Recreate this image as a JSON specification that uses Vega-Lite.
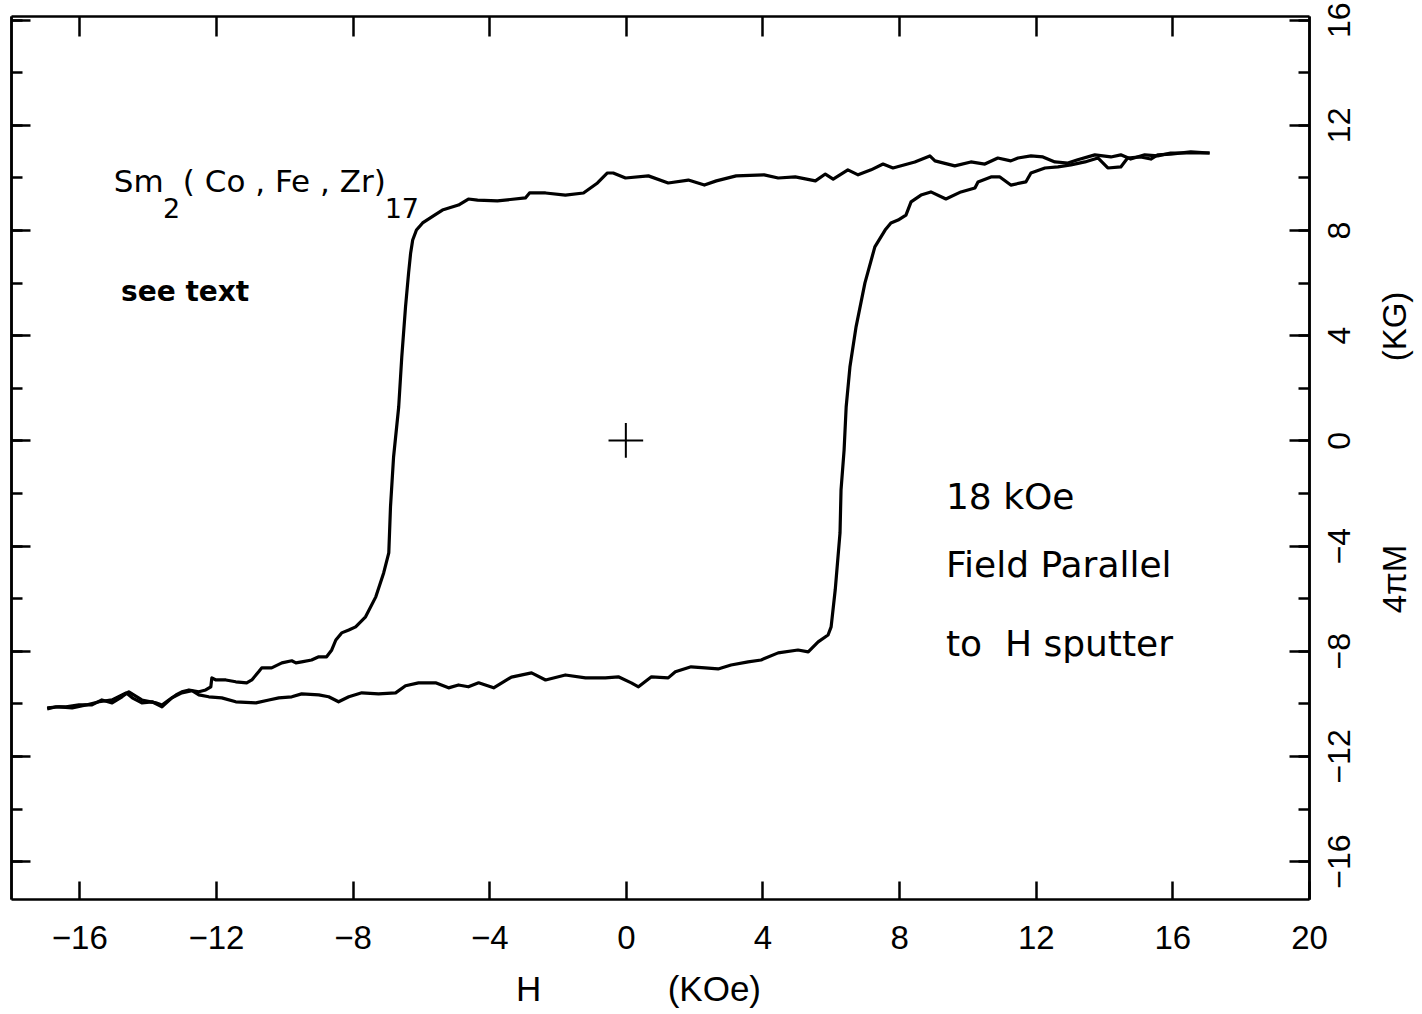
{
  "$schema": "https://vega.github.io/schema/vega-lite/v6.json",
  "autosize": {"type": "none"},
  "padding": {"left": 11, "top": 16, "right": 113, "bottom": 115},
  "width": 1298,
  "height": 883,
  "background": "white",
  "datasets": {
    "loop": [
      {"b":"down","i":1,"h":17.09,"m":10.93},{"b":"down","i":2,"h":16.54,"m":10.93},{"b":"down","i":3,"h":15.95,"m":10.93},{"b":"down","i":4,"h":15.57,"m":10.82},{"b":"down","i":5,"h":15.19,"m":10.86},{"b":"down","i":6,"h":14.78,"m":10.70},{"b":"down","i":7,"h":14.49,"m":10.86},{"b":"down","i":8,"h":14.20,"m":10.78},{"b":"down","i":9,"h":13.73,"m":10.86},{"b":"down","i":10,"h":13.23,"m":10.67},
      {"b":"down","i":11,"h":12.94,"m":10.55},{"b":"down","i":12,"h":12.56,"m":10.59},{"b":"down","i":13,"h":12.21,"m":10.78},{"b":"down","i":14,"h":11.86,"m":10.82},{"b":"down","i":15,"h":11.48,"m":10.74},{"b":"down","i":16,"h":11.27,"m":10.63},{"b":"down","i":17,"h":10.89,"m":10.74},{"b":"down","i":18,"h":10.51,"m":10.51},{"b":"down","i":19,"h":10.10,"m":10.59},{"b":"down","i":20,"h":9.63,"m":10.44},
      {"b":"down","i":21,"h":9.05,"m":10.63},{"b":"down","i":22,"h":8.90,"m":10.82},{"b":"down","i":23,"h":8.46,"m":10.59},{"b":"down","i":24,"h":7.82,"m":10.36},{"b":"down","i":25,"h":7.53,"m":10.51},{"b":"down","i":26,"h":7.18,"m":10.29},{"b":"down","i":27,"h":6.80,"m":10.10},{"b":"down","i":28,"h":6.50,"m":10.29},{"b":"down","i":29,"h":6.07,"m":9.94},{"b":"down","i":30,"h":5.84,"m":10.13},
      {"b":"down","i":31,"h":5.55,"m":9.87},{"b":"down","i":32,"h":4.96,"m":10.02},{"b":"down","i":33,"h":4.46,"m":9.98},{"b":"down","i":34,"h":4.05,"m":10.10},{"b":"down","i":35,"h":3.23,"m":10.06},{"b":"down","i":36,"h":2.65,"m":9.87},{"b":"down","i":37,"h":2.30,"m":9.71},{"b":"down","i":38,"h":1.83,"m":9.90},{"b":"down","i":39,"h":1.24,"m":9.79},{"b":"down","i":40,"h":0.66,"m":10.06},
      {"b":"down","i":41,"h":-0.01,"m":9.98},{"b":"down","i":42,"h":-0.37,"m":10.17},{"b":"down","i":43,"h":-0.54,"m":10.17},{"b":"down","i":44,"h":-0.83,"m":9.79},{"b":"down","i":45,"h":-1.24,"m":9.41},{"b":"down","i":46,"h":-1.77,"m":9.33},{"b":"down","i":47,"h":-2.35,"m":9.41},{"b":"down","i":48,"h":-2.82,"m":9.41},{"b":"down","i":49,"h":-2.94,"m":9.22},{"b":"down","i":50,"h":-3.76,"m":9.11},
      {"b":"down","i":51,"h":-4.34,"m":9.14},{"b":"down","i":52,"h":-4.61,"m":9.18},{"b":"down","i":53,"h":-4.90,"m":8.95},{"b":"down","i":54,"h":-5.37,"m":8.76},{"b":"down","i":55,"h":-5.60,"m":8.57},{"b":"down","i":56,"h":-5.95,"m":8.27},{"b":"down","i":57,"h":-6.13,"m":8.00},{"b":"down","i":58,"h":-6.24,"m":7.62},{"b":"down","i":59,"h":-6.30,"m":7.13},{"b":"down","i":60,"h":-6.36,"m":6.37},
      {"b":"down","i":61,"h":-6.45,"m":5.08},{"b":"down","i":62,"h":-6.56,"m":3.17},{"b":"down","i":63,"h":-6.65,"m":1.27},{"b":"down","i":64,"h":-6.80,"m":-0.63},{"b":"down","i":65,"h":-6.89,"m":-2.53},{"b":"down","i":66,"h":-6.94,"m":-4.28},{"b":"down","i":67,"h":-7.09,"m":-5.04},{"b":"down","i":68,"h":-7.32,"m":-5.95},{"b":"down","i":69,"h":-7.62,"m":-6.71},{"b":"down","i":70,"h":-7.91,"m":-7.09},
      {"b":"down","i":71,"h":-8.11,"m":-7.21},{"b":"down","i":72,"h":-8.32,"m":-7.32},{"b":"down","i":73,"h":-8.49,"m":-7.59},{"b":"down","i":74,"h":-8.61,"m":-7.97},{"b":"down","i":75,"h":-8.76,"m":-8.23},{"b":"down","i":76,"h":-8.99,"m":-8.23},{"b":"down","i":77,"h":-9.20,"m":-8.35},{"b":"down","i":78,"h":-9.49,"m":-8.42},{"b":"down","i":79,"h":-9.66,"m":-8.46},{"b":"down","i":80,"h":-9.78,"m":-8.38},
      {"b":"down","i":81,"h":-10.07,"m":-8.46},{"b":"down","i":82,"h":-10.37,"m":-8.65},{"b":"down","i":83,"h":-10.66,"m":-8.65},{"b":"down","i":84,"h":-10.75,"m":-8.80},{"b":"down","i":85,"h":-10.95,"m":-9.11},{"b":"down","i":86,"h":-11.10,"m":-9.22},{"b":"down","i":87,"h":-11.42,"m":-9.18},{"b":"down","i":88,"h":-11.71,"m":-9.11},{"b":"down","i":89,"h":-12.00,"m":-9.11},{"b":"down","i":90,"h":-12.12,"m":-9.03},
      {"b":"down","i":91,"h":-12.15,"m":-9.37},{"b":"down","i":92,"h":-12.30,"m":-9.49},{"b":"down","i":93,"h":-12.50,"m":-9.56},{"b":"down","i":94,"h":-12.79,"m":-9.49},{"b":"down","i":95,"h":-13.00,"m":-9.56},{"b":"down","i":96,"h":-13.17,"m":-9.68},{"b":"down","i":97,"h":-13.38,"m":-9.87},{"b":"down","i":98,"h":-13.58,"m":-10.06},{"b":"down","i":99,"h":-13.76,"m":-9.98},{"b":"down","i":100,"h":-14.17,"m":-9.87},
      {"b":"down","i":101,"h":-14.55,"m":-9.56},{"b":"down","i":102,"h":-14.75,"m":-9.75},{"b":"down","i":103,"h":-15.04,"m":-9.98},{"b":"down","i":104,"h":-15.34,"m":-9.87},{"b":"down","i":105,"h":-15.63,"m":-10.06},{"b":"down","i":106,"h":-16.01,"m":-10.06},{"b":"down","i":107,"h":-16.39,"m":-10.13},{"b":"down","i":108,"h":-16.68,"m":-10.13},{"b":"down","i":109,"h":-16.94,"m":-10.21},
      {"b":"up","i":1,"h":-16.94,"m":-10.17},{"b":"up","i":2,"h":-16.59,"m":-10.13},{"b":"up","i":3,"h":-16.21,"m":-10.17},{"b":"up","i":4,"h":-15.80,"m":-10.06},{"b":"up","i":5,"h":-15.42,"m":-9.94},{"b":"up","i":6,"h":-15.04,"m":-9.87},{"b":"up","i":7,"h":-14.63,"m":-9.60},{"b":"up","i":8,"h":-14.45,"m":-9.79},{"b":"up","i":9,"h":-14.17,"m":-9.98},{"b":"up","i":10,"h":-13.87,"m":-9.94},
      {"b":"up","i":11,"h":-13.58,"m":-10.13},{"b":"up","i":12,"h":-13.29,"m":-9.79},{"b":"up","i":13,"h":-13.00,"m":-9.60},{"b":"up","i":14,"h":-12.70,"m":-9.52},{"b":"up","i":15,"h":-12.50,"m":-9.68},{"b":"up","i":16,"h":-12.21,"m":-9.75},{"b":"up","i":17,"h":-11.83,"m":-9.79},{"b":"up","i":18,"h":-11.42,"m":-9.94},{"b":"up","i":19,"h":-10.83,"m":-9.98},{"b":"up","i":20,"h":-10.45,"m":-9.87},
      {"b":"up","i":21,"h":-10.16,"m":-9.79},{"b":"up","i":22,"h":-9.78,"m":-9.75},{"b":"up","i":23,"h":-9.49,"m":-9.64},{"b":"up","i":24,"h":-8.99,"m":-9.68},{"b":"up","i":25,"h":-8.70,"m":-9.75},{"b":"up","i":26,"h":-8.41,"m":-9.94},{"b":"up","i":27,"h":-8.11,"m":-9.75},{"b":"up","i":28,"h":-7.73,"m":-9.60},{"b":"up","i":29,"h":-7.24,"m":-9.64},{"b":"up","i":30,"h":-6.74,"m":-9.60},
      {"b":"up","i":31,"h":-6.45,"m":-9.33},{"b":"up","i":32,"h":-6.07,"m":-9.22},{"b":"up","i":33,"h":-5.57,"m":-9.22},{"b":"up","i":34,"h":-5.19,"m":-9.41},{"b":"up","i":35,"h":-4.90,"m":-9.30},{"b":"up","i":36,"h":-4.61,"m":-9.37},{"b":"up","i":37,"h":-4.31,"m":-9.22},{"b":"up","i":38,"h":-3.87,"m":-9.41},{"b":"up","i":39,"h":-3.35,"m":-9.00},{"b":"up","i":40,"h":-2.76,"m":-8.84},
      {"b":"up","i":41,"h":-2.35,"m":-9.11},{"b":"up","i":42,"h":-1.77,"m":-8.92},{"b":"up","i":43,"h":-1.18,"m":-9.03},{"b":"up","i":44,"h":-0.60,"m":-9.03},{"b":"up","i":45,"h":-0.22,"m":-8.99},{"b":"up","i":46,"h":0.16,"m":-9.22},{"b":"up","i":47,"h":0.37,"m":-9.37},{"b":"up","i":48,"h":0.75,"m":-8.99},{"b":"up","i":49,"h":1.24,"m":-9.03},{"b":"up","i":50,"h":1.45,"m":-8.80},
      {"b":"up","i":51,"h":1.91,"m":-8.61},{"b":"up","i":52,"h":2.32,"m":-8.65},{"b":"up","i":53,"h":2.70,"m":-8.69},{"b":"up","i":54,"h":3.08,"m":-8.54},{"b":"up","i":55,"h":3.58,"m":-8.42},{"b":"up","i":56,"h":3.96,"m":-8.35},{"b":"up","i":57,"h":4.46,"m":-8.08},{"b":"up","i":58,"h":5.04,"m":-7.97},{"b":"up","i":59,"h":5.34,"m":-8.04},{"b":"up","i":60,"h":5.63,"m":-7.66},
      {"b":"up","i":61,"h":5.92,"m":-7.40},{"b":"up","i":62,"h":6.01,"m":-7.09},{"b":"up","i":63,"h":6.13,"m":-5.68},{"b":"up","i":64,"h":6.27,"m":-3.52},{"b":"up","i":65,"h":6.30,"m":-1.88},{"b":"up","i":66,"h":6.39,"m":-0.36},{"b":"up","i":67,"h":6.45,"m":1.27},{"b":"up","i":68,"h":6.56,"m":2.79},{"b":"up","i":69,"h":6.74,"m":4.32},{"b":"up","i":70,"h":7.00,"m":5.99},
      {"b":"up","i":71,"h":7.29,"m":7.36},{"b":"up","i":72,"h":7.59,"m":8.00},{"b":"up","i":73,"h":7.76,"m":8.27},{"b":"up","i":74,"h":7.97,"m":8.38},{"b":"up","i":75,"h":8.20,"m":8.57},{"b":"up","i":76,"h":8.35,"m":9.07},{"b":"up","i":77,"h":8.64,"m":9.33},{"b":"up","i":78,"h":8.93,"m":9.45},{"b":"up","i":79,"h":9.37,"m":9.18},{"b":"up","i":80,"h":9.81,"m":9.45},
      {"b":"up","i":81,"h":10.22,"m":9.60},{"b":"up","i":82,"h":10.31,"m":9.83},{"b":"up","i":83,"h":10.69,"m":10.02},{"b":"up","i":84,"h":10.95,"m":10.02},{"b":"up","i":85,"h":11.27,"m":9.71},{"b":"up","i":86,"h":11.71,"m":9.83},{"b":"up","i":87,"h":11.86,"m":10.17},{"b":"up","i":88,"h":12.27,"m":10.36},{"b":"up","i":89,"h":12.65,"m":10.40},{"b":"up","i":90,"h":13.03,"m":10.48},
      {"b":"up","i":91,"h":13.44,"m":10.59},{"b":"up","i":92,"h":13.82,"m":10.74},{"b":"up","i":93,"h":14.11,"m":10.36},{"b":"up","i":94,"h":14.49,"m":10.40},{"b":"up","i":95,"h":14.69,"m":10.74},{"b":"up","i":96,"h":15.07,"m":10.78},{"b":"up","i":97,"h":15.37,"m":10.70},{"b":"up","i":98,"h":15.57,"m":10.86},{"b":"up","i":99,"h":15.95,"m":10.89},{"b":"up","i":100,"h":16.54,"m":10.97},{"b":"up","i":101,"h":17.09,"m":10.93}
    ],
    "origin": [{"h": 0, "m": 0}],
    "notes": [
      {"h": 9.37, "m": -2.6, "t": "18 kOe"},
      {"h": 9.37, "m": -5.19, "t": "Field Parallel"},
      {"h": 9.37, "m": -8.19, "t": "to\u00a0\u00a0H sputter"}
    ],
    "formula": [
      {"h": -14.99, "m": 9.45, "t": "Sm"},
      {"h": -12.97, "m": 9.45, "t": "( Co , Fe , Zr)"}
    ],
    "subs": [
      {"h": -13.55, "m": 8.46, "t": "2"},
      {"h": -7.06, "m": 8.46, "t": "17"}
    ],
    "see": [
      {"h": -14.78, "m": 5.3, "t": "see text"}
    ]
  },
  "layer": [
    {
      "data": {"name": "loop"},
      "mark": {"type": "line", "color": "black", "strokeWidth": 3.2, "strokeJoin": "round"},
      "encoding": {
        "x": {"field": "h", "type": "quantitative",
          "scale": {"domain": [-18, 20], "nice": false, "zero": false},
          "axis": {"orient": "bottom", "values": [-16, -12, -8, -4, 0, 4, 8, 12, 16, 20],
            "tickSize": -18, "labelFontSize": 33, "labelPadding": 41,
            "title": "H\u00a0\u00a0\u00a0\u00a0\u00a0\u00a0\u00a0\u00a0\u00a0\u00a0\u00a0\u00a0\u00a0(KOe)", "titleFontSize": 35, "titleFontWeight": "normal",
            "titleX": 627, "titleY": 90, "titleAlign": "center", "titleBaseline": "middle"}},
        "y": {"field": "m", "type": "quantitative",
          "scale": {"domain": [-17.44, 16.14], "nice": false, "zero": false},
          "axis": {"orient": "right", "values": [-16, -12, -8, -4, 0, 4, 8, 12, 16],
            "tickSize": -20, "labelFontSize": 32, "labelAngle": -90, "labelAlign": "center", "labelBaseline": "top", "labelPadding": 35,
            "title": "4πM\u00a0\u00a0\u00a0\u00a0\u00a0\u00a0\u00a0\u00a0\u00a0\u00a0\u00a0\u00a0\u00a0\u00a0\u00a0\u00a0\u00a0\u00a0\u00a0\u00a0(KG)", "titleFontSize": 33, "titleFontWeight": "normal", "titleAngle": -90,
            "titleX": 86, "titleY": 436, "titleAlign": "center", "titleBaseline": "middle"}},
        "detail": {"field": "b"},
        "order": {"field": "i", "type": "quantitative"}
      }
    },
    {
      "data": {"name": "origin"},
      "mark": {"type": "point", "shape": "M-1,0L1,0M0,-1L0,1", "size": 1200, "filled": false, "stroke": "black", "strokeWidth": 2, "opacity": 1},
      "encoding": {
        "x": {"field": "h", "type": "quantitative", "scale": {"domain": [-18, 20], "nice": false, "zero": false},
          "axis": {"orient": "top", "values": [-16, -12, -8, -4, 0, 4, 8, 12, 16], "tickSize": -20, "labels": false, "title": null}},
        "y": {"field": "m", "type": "quantitative", "scale": {"domain": [-17.44, 16.14], "nice": false, "zero": false},
          "axis": {"orient": "left", "values": [-16, -12, -8, -4, 0, 4, 8, 12, 16], "tickSize": -19, "labels": false, "title": null}}
      }
    },
    {
      "data": {"name": "notes"},
      "mark": {"type": "text", "align": "left", "baseline": "alphabetic", "fontSize": 36, "font": "DejaVu Sans", "color": "black"},
      "encoding": {
        "x": {"field": "h", "type": "quantitative", "scale": {"domain": [-18, 20], "nice": false, "zero": false}, "axis": null},
        "y": {"field": "m", "type": "quantitative", "scale": {"domain": [-17.44, 16.14], "nice": false, "zero": false},
          "axis": {"orient": "left", "values": [-16, -14, -12, -10, -8, -6, -4, -2, 0, 2, 4, 6, 8, 10, 12, 14, 16], "tickSize": -11, "labels": false, "title": null}},
        "text": {"field": "t"}
      }
    },
    {
      "data": {"name": "formula"},
      "mark": {"type": "text", "align": "left", "baseline": "alphabetic", "fontSize": 31, "font": "DejaVu Sans", "color": "black"},
      "encoding": {
        "x": {"field": "h", "type": "quantitative", "scale": {"domain": [-18, 20], "nice": false, "zero": false}, "axis": null},
        "y": {"field": "m", "type": "quantitative", "scale": {"domain": [-17.44, 16.14], "nice": false, "zero": false},
          "axis": {"orient": "right", "values": [-16, -14, -12, -10, -8, -6, -4, -2, 0, 2, 4, 6, 8, 10, 12, 14, 16], "tickSize": -11, "labels": false, "title": null}},
        "text": {"field": "t"}
      }
    },
    {
      "data": {"name": "subs"},
      "mark": {"type": "text", "align": "left", "baseline": "alphabetic", "fontSize": 27, "font": "DejaVu Sans", "color": "black"},
      "encoding": {
        "x": {"field": "h", "type": "quantitative", "scale": {"domain": [-18, 20], "nice": false, "zero": false}, "axis": null},
        "y": {"field": "m", "type": "quantitative", "scale": {"domain": [-17.44, 16.14], "nice": false, "zero": false}, "axis": null},
        "text": {"field": "t"}
      }
    },
    {
      "data": {"name": "see"},
      "mark": {"type": "text", "align": "left", "baseline": "alphabetic", "fontSize": 28, "font": "DejaVu Sans", "fontWeight": "bold", "color": "black"},
      "encoding": {
        "x": {"field": "h", "type": "quantitative", "scale": {"domain": [-18, 20], "nice": false, "zero": false}, "axis": null},
        "y": {"field": "m", "type": "quantitative", "scale": {"domain": [-17.44, 16.14], "nice": false, "zero": false}, "axis": null},
        "text": {"field": "t"}
      }
    }
  ],
  "resolve": {"axis": {"x": "independent", "y": "independent"}},
  "config": {
    "view": {"stroke": null},
    "axis": {"domainColor": "black", "tickColor": "black", "labelColor": "black", "titleColor": "black", "grid": false,
      "labelFont": "Liberation Sans", "titleFont": "Liberation Sans", "domainWidth": 2.5, "tickWidth": 2.5,
      "labelFlush": false, "labelOverlap": false, "labelBound": false}
  }
}
